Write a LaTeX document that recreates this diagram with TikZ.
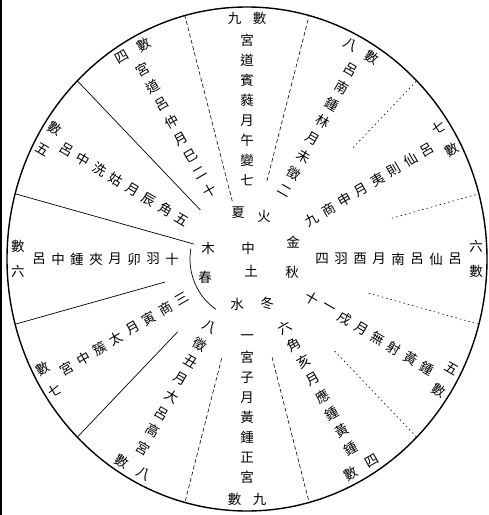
\documentclass[tikz,border=0pt]{standalone}
\usepackage{fontspec}
\newfontfamily\cjk{Noto Sans CJK TC}
\newcommand\myspoke[4]{%
  \foreach \c [count=\i from 0] in {#3} {
    \pgfmathsetmacro\rr{75+19*\i}
    \node[ch, rotate=#2] (sp#1-\i) at ({\cx+\rr*cos(#1)},{\cy+1.05*\rr*sin(#1)}) {\c};
  }
  \node[ch, rotate=#2] (n#1) at ({\cx+229*cos(#1)-12.5*sin(#1)},{\cy+1.05*229*sin(#1)+12.5*cos(#1)}) {#4};
  \node[ch, rotate=#2] (s#1) at ({\cx+229*cos(#1)+12.5*sin(#1)},{\cy+1.05*229*sin(#1)-12.5*cos(#1)}) {數};
}
\begin{document}
\begin{tikzpicture}[x=1pt,y=1pt,
  ch/.style={font=\cjk\fontsize{13.5}{14}\selectfont, inner sep=0pt, text=black},
  solidline/.style={line width=0.7pt},
  dashline/.style={line width=0.6pt, dash pattern=on 4pt off 2.5pt},
  dotline/.style={line width=0.6pt, dash pattern=on 1.5pt off 3pt}]
\useasboundingbox (0,0) rectangle (489,515);
\def\cx{247}\def\cy{256}
\coordinate (C) at (\cx,\cy);
% outer circle and scan border
\draw[line width=1.4pt] (C) ellipse [x radius=240, y radius=252];
\draw[line width=2.4pt] (1.2,0) -- (1.2,515);
% dividers
\foreach \a/\rin in {135/66, 165/55, 195/85, 225/98}
  \draw[solidline] ({\cx+\rin*cos(\a)},{\cy+1.05*\rin*sin(\a)}) -- ({\cx+240*cos(\a)},{\cy+252*sin(\a)});
\foreach \a/\rin in {75/77, 105/57, 255/98, 285/97}
  \draw[dashline] ({\cx+\rin*cos(\a)},{\cy+1.05*\rin*sin(\a)}) -- ({\cx+240*cos(\a)},{\cy+252*sin(\a)});
\foreach \a/\rin in {15/150, 45/150, 315/124, 345/126}
  \draw[dotline] ({\cx+\rin*cos(\a)},{\cy+1.05*\rin*sin(\a)}) -- ({\cx+240*cos(\a)},{\cy+252*sin(\a)});
% inner arc
\draw[solidline] ({\cx+57*cos(170)},{\cy+60*sin(170)}) arc[start angle=170, end angle=237, x radius=57, y radius=60];
% centre ring
\node[ch] (xia) at (238,302) {夏};
\node[ch] (huo) at (264,299) {火};
\node[ch] (mu) at (208,267) {木};
\node[ch] (chun) at (205,238) {春};
\node[ch] (zhong) at (248,267) {中};
\node[ch] (tu) at (251,244) {土};
\node[ch] (jin) at (293,273) {金};
\node[ch] (qiu) at (292,243) {秋};
\node[ch] (shui) at (237,211) {水};
\node[ch] (dong) at (267,212) {冬};
% spokes
\myspoke{270}{0}{一,宮,子,月,黃,鍾,正,宮}{九}
\myspoke{240}{-30}{八,徵,丑,月,大,呂,高,宮}{八}
\myspoke{210}{30}{三,商,寅,月,太,簇,中,宮}{七}
\myspoke{180}{0}{十,羽,卯,月,夾,鍾,中,呂}{六}
\myspoke{150}{-30}{五,角,辰,月,姑,洗,中,呂}{五}
\myspoke{120}{30}{十,二,巳,月,仲,呂,道,宮}{四}
\myspoke{90}{0}{七,變,午,月,蕤,賓,道,宮}{九}
\myspoke{60}{-30}{二,徵,未,月,林,鍾,南,呂}{八}
\myspoke{30}{30}{九,商,申,月,夷,則,仙,呂}{七}
\myspoke{0}{0}{四,羽,酉,月,南,呂,仙,呂}{六}
\myspoke{330}{-30}{十,一,戌,月,無,射,黃,鍾}{五}
\myspoke{300}{30}{六,角,亥,月,應,鍾,黃,鍾}{四}
\end{tikzpicture}
\end{document}
